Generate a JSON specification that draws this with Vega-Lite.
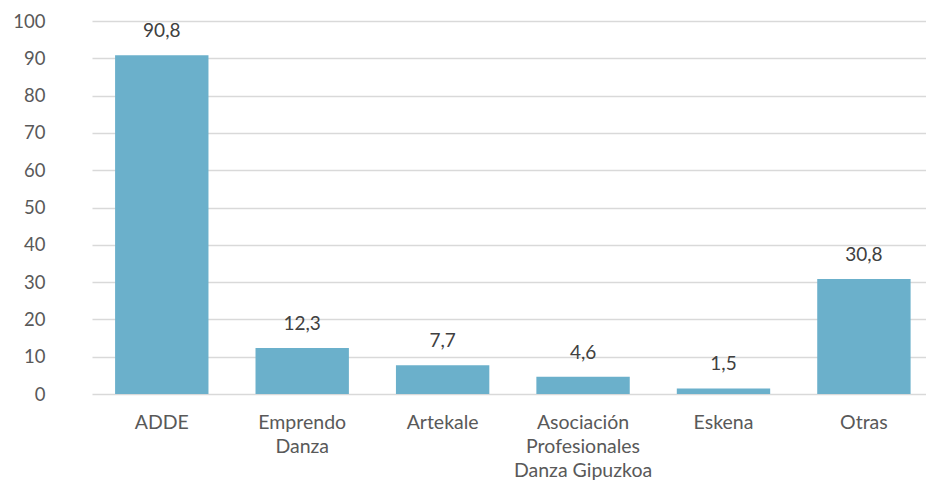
{
  "$schema": "https://vega.github.io/schema/vega-lite/v6.json",
  "autosize": "none",
  "width": 834,
  "height": 373,
  "padding": {"left": 92, "top": 21, "right": 0, "bottom": 88},
  "background": "white",
  "config": {
    "view": {"stroke": null},
    "font": "Lato",
    "locale": {"number": {"decimal": ",", "thousands": ".", "grouping": [3], "currency": ["", " €"]}}
  },
  "data": {
    "values": [
      {"entidad": "ADDE", "valor": 90.8},
      {"entidad": "Emprendo Danza", "valor": 12.3},
      {"entidad": "Artekale", "valor": 7.7},
      {"entidad": "Asociación Profesionales Danza Gipuzkoa", "valor": 4.6},
      {"entidad": "Eskena", "valor": 1.5},
      {"entidad": "Otras", "valor": 30.8}
    ]
  },
  "encoding": {
    "x": {
      "field": "entidad",
      "type": "nominal",
      "sort": null,
      "scale": {"paddingInner": 0.335, "paddingOuter": 0.137, "align": 0.6},
      "axis": {
        "title": null,
        "labelAngle": 0,
        "domain": false,
        "ticks": false,
        "labelFontSize": 19.5,
        "labelColor": "#595959",
        "labelPadding": 19,
        "labelLineHeight": 24,
        "labelBaseline": "top",
        "labelExpr": "datum.value == 'Emprendo Danza' ? ['Emprendo', 'Danza'] : datum.value == 'Asociación Profesionales Danza Gipuzkoa' ? ['Asociación', 'Profesionales', 'Danza Gipuzkoa'] : datum.value"
      }
    },
    "y": {
      "field": "valor",
      "type": "quantitative",
      "scale": {"domain": [0, 100], "nice": false},
      "axis": {
        "title": null,
        "values": [0, 10, 20, 30, 40, 50, 60, 70, 80, 90, 100],
        "domain": false,
        "ticks": false,
        "labelFontSize": 18.5,
        "labelColor": "#595959",
        "labelPadding": 47,
        "gridColor": "#d9d9d9",
        "gridWidth": 1.3
      }
    }
  },
  "layer": [
    {"mark": {"type": "bar", "color": "#6BB0CB"}},
    {
      "mark": {"type": "text", "baseline": "alphabetic", "dy": -18, "fontSize": 19, "color": "#404040"},
      "encoding": {"text": {"field": "valor", "type": "quantitative", "format": ".1f"}}
    }
  ]
}
